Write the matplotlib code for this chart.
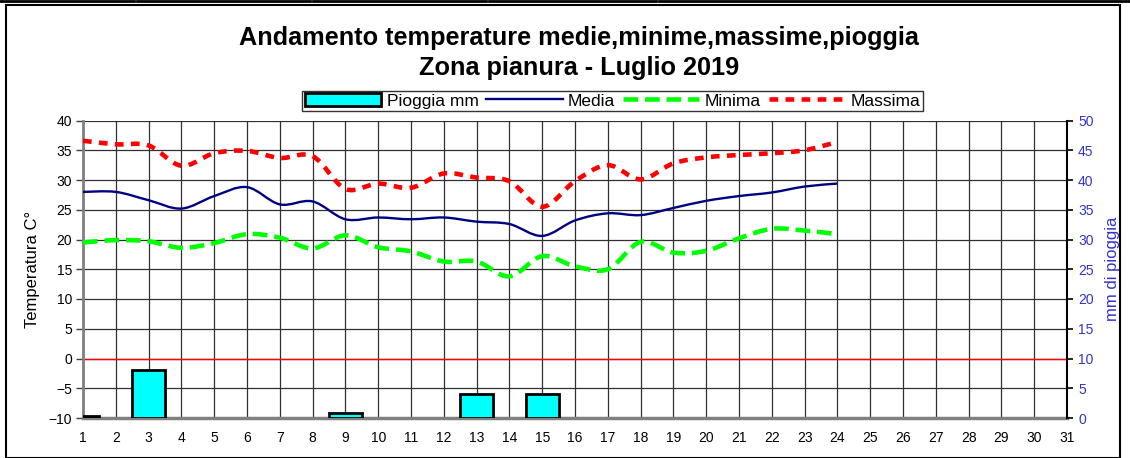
import matplotlib
matplotlib.use("Agg")
import matplotlib.pyplot as plt
from matplotlib.path import Path
from matplotlib.patches import PathPatch, Rectangle
from matplotlib.lines import Line2D
import numpy as np

plt.rcParams['font.family'] = ['Liberation Sans', 'DejaVu Sans']

days = list(range(1, 25))
media = [28.0, 28.0, 26.6, 25.2, 27.3, 28.8, 25.9, 26.4, 23.4, 23.7, 23.4, 23.7,
         23.0, 22.6, 20.6, 23.2, 24.4, 24.1, 25.3, 26.5, 27.3, 27.9, 28.9, 29.4]
minima = [19.5, 19.9, 19.7, 18.6, 19.4, 20.9, 20.3, 18.5, 20.7, 18.7, 18.0, 16.3,
          16.3, 13.8, 17.2, 15.5, 15.0, 19.6, 17.8, 18.1, 20.2, 21.8, 21.5, 20.9]
massima = [36.6, 36.0, 35.8, 32.4, 34.5, 34.9, 33.7, 34.0, 28.5, 29.4, 28.7, 31.1,
           30.4, 29.8, 25.5, 29.8, 32.5, 30.1, 32.8, 33.8, 34.2, 34.5, 35.0, 36.4]
rain_days = [1, 3, 9, 13, 15]
rain_mm = [0.3, 8.0, 0.8, 4.1, 4.0]
x_ticks = list(range(1, 32))
left_ticks = list(range(-10, 41, 5))
right_ticks = list(range(0, 51, 5))

W, H = 1130, 458
fig = plt.figure(figsize=(W / 100, H / 100), dpi=100)
ax = fig.add_axes([83 / W, 1 - 418 / H, (1067 - 83) / W, (418 - 120.5) / H])
ax2 = ax.twinx()


def smooth_path(xs, ys):
    xs = np.asarray(xs, float)
    ys = np.asarray(ys, float)
    n = len(xs)
    verts = [(xs[0], ys[0])]
    codes = [Path.MOVETO]
    for i in range(n - 1):
        i0 = max(i - 1, 0)
        i3 = min(i + 2, n - 1)
        c1 = (xs[i] + (xs[i + 1] - xs[i0]) / 6, ys[i] + (ys[i + 1] - ys[i0]) / 6)
        c2 = (xs[i + 1] - (xs[i3] - xs[i]) / 6, ys[i + 1] - (ys[i3] - ys[i]) / 6)
        verts += [c1, c2, (xs[i + 1], ys[i + 1])]
        codes += [Path.CURVE4] * 3
    return Path(verts, codes)


ax.set_xlim(1, 31)
ax.set_ylim(-10, 40)
ax2.set_ylim(0, 50)

# grid
ax.set_xticks(x_ticks)
ax.set_yticks(left_ticks)
ax.grid(True, color='#303030', linewidth=0.9)
ax.set_axisbelow(True)
ax.axhline(0, color='#ff0000', linewidth=1.0, zorder=1.5)

grn_style = dict(color='#00ff00', linewidth=3.3, linestyle=(0, (3.2, 1.5)))
red_style = dict(color='#ff0000', linewidth=3.3, linestyle=(0, (1.9, 1.6)))
blu_style = dict(color='#000080', linewidth=1.7, linestyle='-')

ax.add_patch(PathPatch(smooth_path(days, media), fill=False, zorder=3, **blu_style))
ax.add_patch(PathPatch(smooth_path(days, minima), fill=False, zorder=3, capstyle='butt', **grn_style))
ax.add_patch(PathPatch(smooth_path(days, massima), fill=False, zorder=3, capstyle='butt', **red_style))

ax2.bar(rain_days, rain_mm, width=1.0, color='#00ffff', edgecolor='black', linewidth=2.0, zorder=2)
ax2.set_yticks(right_ticks)

# spines and ticks
for s in ['top']:
    ax.spines[s].set_visible(False)
    ax2.spines[s].set_visible(False)
ax.spines['left'].set_color('#808080')
ax.spines['left'].set_linewidth(2.0)
ax.spines['bottom'].set_color('#808080')
ax.spines['bottom'].set_linewidth(2.5)
ax2.spines['left'].set_visible(False)
ax2.spines['bottom'].set_visible(False)
ax2.spines['right'].set_color('black')
ax2.spines['right'].set_linewidth(1.5)
ax.spines['right'].set_visible(False)

ax.tick_params(axis='y', labelsize=10, length=5, width=1, color='#404040', pad=3)
ax.tick_params(axis='x', labelsize=10, length=0, pad=9)
ax2.tick_params(axis='y', labelsize=10, length=4, width=1.2, color='black', labelcolor='#3333cc', pad=4)

ax.set_ylabel('Temperatura C°', fontsize=12, labelpad=6)
ax2.set_ylabel('mm di pioggia', fontsize=12, color='#3333cc', labelpad=8)

fig.text(579 / W, 1 - 38 / H, 'Andamento temperature medie,minime,massime,pioggia',
         ha='center', va='center', fontsize=18.2, fontweight='bold')
fig.text(579 / W, 1 - 68 / H, 'Zona pianura - Luglio 2019',
         ha='center', va='center', fontsize=18.2, fontweight='bold')

handles = [
    Rectangle((0, 0), 1, 1, facecolor='#00ffff', edgecolor='black', linewidth=2.0),
    Line2D([], [], dash_capstyle='butt', **blu_style),
    Line2D([], [], dash_capstyle='butt', **grn_style),
    Line2D([], [], dash_capstyle='butt', **red_style),
]
labels = ['Pioggia mm', 'Media', 'Minima', 'Massima']
leg = fig.legend(handles, labels, loc='center', bbox_to_anchor=(612.5 / W, 1 - 101 / H),
                 ncol=4, fontsize=12.5, frameon=True, fancybox=False, edgecolor='black',
                 handlelength=4.4, handletextpad=0.3, columnspacing=0.45, borderpad=0.15,
                 borderaxespad=0, handleheight=0.8)
leg.get_frame().set_linewidth(1.0)

# outer border
fig.patches.append(Rectangle((6 / W, 0), (1120 - 6) / W, 1 - 5 / H, transform=fig.transFigure,
                             fill=False, edgecolor='black', linewidth=1.5))
for x0, x1 in [(0, 134), (137, 310), (313, 486), (489, 656), (659, 1130)]:
    fig.add_artist(Line2D([x0 / W, x1 / W], [1 - 1 / H, 1 - 1 / H], color='black',
                          linewidth=2.0, transform=fig.transFigure))

fig.savefig('out.png', dpi=100)
